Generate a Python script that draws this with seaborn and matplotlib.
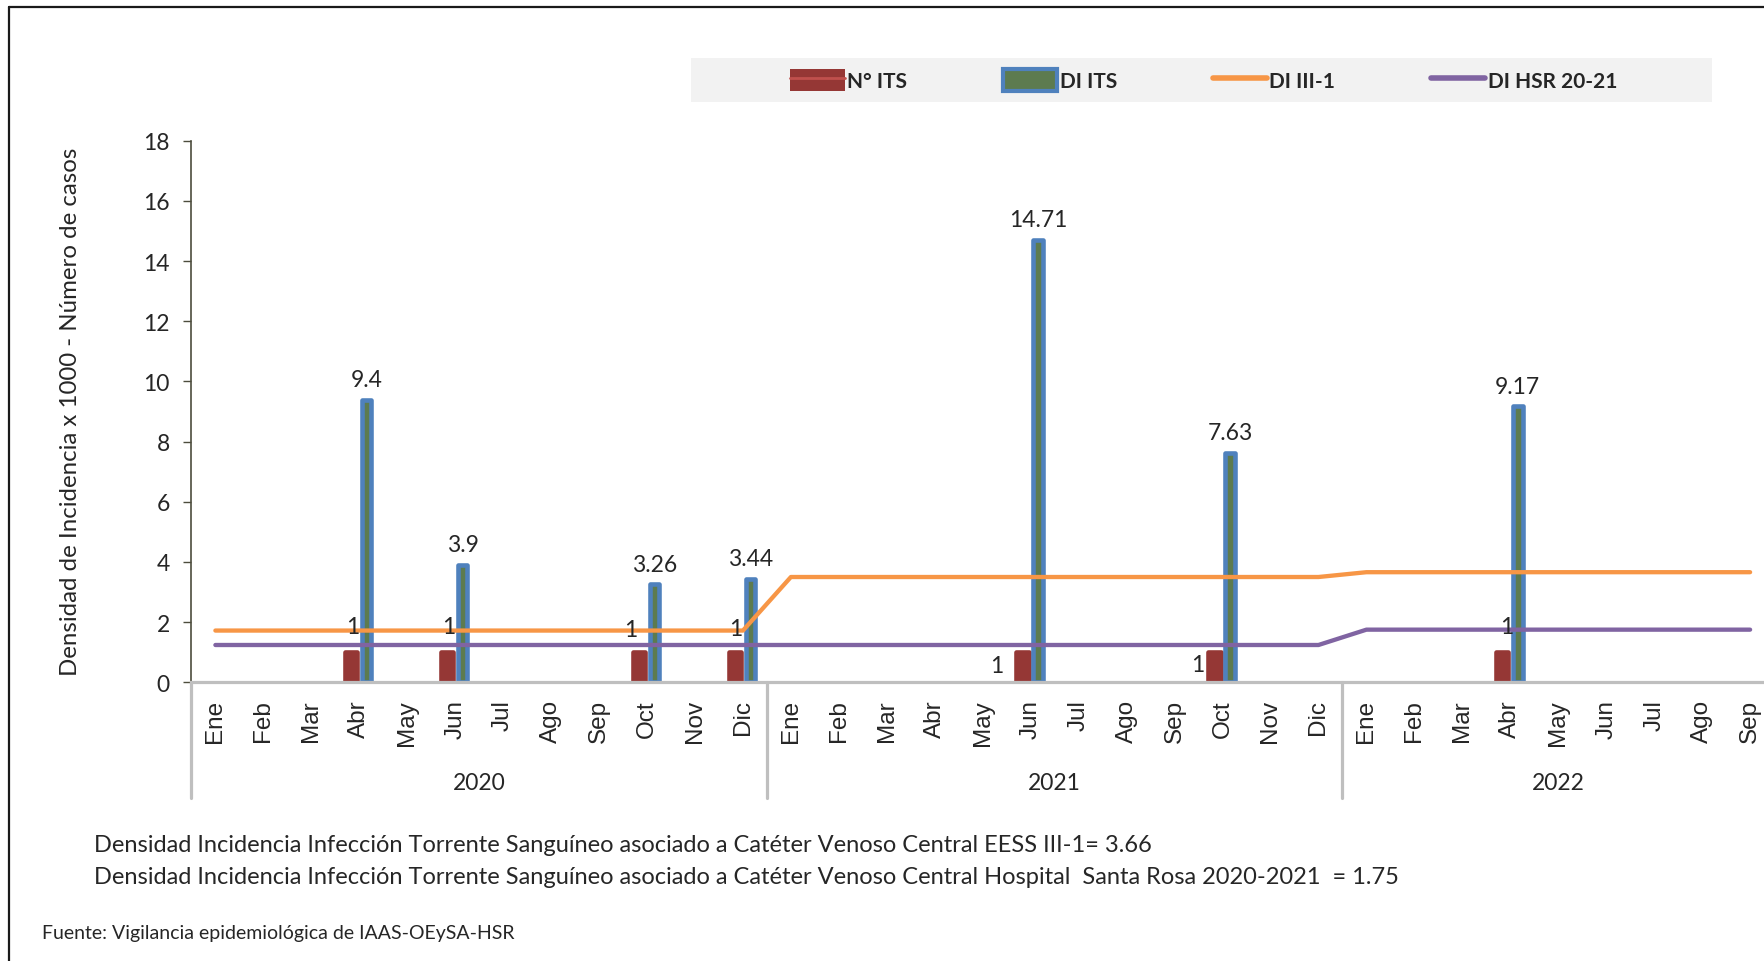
import matplotlib
matplotlib.use("Agg")
import matplotlib.pyplot as plt
import seaborn as sns
import pandas as pd
import numpy as np
from matplotlib.patches import Patch, Rectangle
from matplotlib.lines import Line2D

# ---- datos ----
meses = ["Ene", "Feb", "Mar", "Abr", "May", "Jun", "Jul", "Ago", "Sep", "Oct", "Nov", "Dic"]
anios = ["2020", "2021", "2022"]
meses_por_anio = [12, 12, 9]

claves = [f"{a}-{m}" for a, n in zip(anios, meses_por_anio) for m in meses[:n]]
etiquetas = [m for n in meses_por_anio for m in meses[:n]]

casos_mes = ["2020-Abr", "2020-Jun", "2020-Oct", "2020-Dic", "2021-Jun", "2021-Oct", "2022-Abr"]
n_its = [1, 1, 1, 1, 1, 1, 1]
di_its = [9.4, 3.9, 3.26, 3.44, 14.71, 7.63, 9.17]

di_iii1 = [1.72, 1.72, 1.72, 1.72, 1.72, 1.72, 1.72, 1.72, 1.72, 1.72, 1.72, 1.72,
           3.5, 3.5, 3.5, 3.5, 3.5, 3.5, 3.5, 3.5, 3.5, 3.5, 3.5, 3.5,
           3.66, 3.66, 3.66, 3.66, 3.66, 3.66, 3.66, 3.66, 3.66]
di_hsr = [1.24, 1.24, 1.24, 1.24, 1.24, 1.24, 1.24, 1.24, 1.24, 1.24, 1.24, 1.24,
          1.24, 1.24, 1.24, 1.24, 1.24, 1.24, 1.24, 1.24, 1.24, 1.24, 1.24, 1.24,
          1.75, 1.75, 1.75, 1.75, 1.75, 1.75, 1.75, 1.75, 1.75]

series = ["N° ITS", "DI ITS", "DI III-1", "DI HSR 20-21"]

# colores estilo excel
rojo = "#953735"
rojo_claro = "#c0504d"
azul = "#4f81bd"
verde = "#5d7b4f"
naranja = "#f79646"
morado = "#8064a2"
gris = "#bfbfbf"

sns.set_theme(style="white")
plt.rcParams['font.family'] = ['Lato', 'DejaVu Sans']

W, H = 1765, 962
fig = plt.figure(figsize=(W / 100, H / 100), dpi=100)
ax = fig.add_axes([191.4 / W, 1 - 683.3 / H, 33 * 47.96 / W, 541.5 / H])

df = pd.DataFrame({
    "mes": casos_mes * 2,
    "valor": n_its + di_its,
    "serie": [series[0]] * len(casos_mes) + [series[1]] * len(casos_mes),
})
sns.barplot(data=df, x="mes", y="valor", hue="serie", order=claves,
            hue_order=series[:2], palette=[rojo, azul], width=0.64,
            saturation=1, legend=False, ax=ax)

# barras DI ITS: relleno verde con borde azul
for p in ax.containers[1]:
    cx = p.get_x() + p.get_width() / 2
    p.set_width(0.2)
    p.set_x(cx - 0.1 - 0.005)
    p.set_facecolor(verde)
    p.set_edgecolor(azul)
    p.set_linewidth(3.3)
    p.set_joinstyle("round")
# barras N° ITS: esquinas redondeadas
for p in ax.containers[0]:
    cx = p.get_x() + p.get_width() / 2
    p.set_width(0.26)
    p.set_x(cx - 0.13 - 0.01)
    p.set_edgecolor(rojo)
    p.set_linewidth(3.3)
    p.set_joinstyle("round")

pos = np.arange(len(claves))
sns.lineplot(x=pos, y=di_iii1, color=naranja, linewidth=3.1, ax=ax,
             solid_capstyle="round", zorder=4)
sns.lineplot(x=pos, y=di_hsr, color=morado, linewidth=3.1, ax=ax,
             solid_capstyle="round", zorder=4)

# etiquetas de datos
ax.bar_label(ax.containers[1], fmt="{:g}", padding=7, fontsize=16.5, zorder=6)
pos_uno = [(-0.1, 1.87), (-0.1, 1.87), (-0.3, 1.74), (-0.12, 1.8),
           (-0.67, 0.56), (-0.49, 0.6), (-0.05, 1.87)]
for p, (dx, y) in zip(ax.containers[0], pos_uno):
    ax.text(p.get_x() + p.get_width() + 0.01 + dx, y, f"{n_its[0]:g}",
            ha="center", va="center", fontsize=16.5, zorder=6)

ax.set_xlim(-0.5, len(claves) - 0.5)
ax.set_ylim(0, 18)
ax.set_yticks(range(0, 19, 2))
ax.set_xticks(pos)
ax.set_xticklabels(etiquetas, rotation=90, fontsize=17.5, family="Liberation Sans")
ax.set_xlabel("")
ax.set_ylabel("")
ax.tick_params(axis="x", length=0, pad=12)
ax.tick_params(axis="y", length=5.5, width=1, color="#4d4d3d", pad=10,
               labelsize=16.5, left=True)
for s in ["top", "right"]:
    ax.spines[s].set_visible(False)
ax.spines["left"].set_color("#4d4d3d")
ax.spines["left"].set_linewidth(1.2)
ax.spines["bottom"].set_color(gris)
ax.spines["bottom"].set_linewidth(2.3)
ax.spines["bottom"].set_zorder(5)

# eje de categorias de dos niveles
inicio = 0
for anio, n in zip(anios, meses_por_anio):
    ax.add_line(Line2D([inicio - 0.5, inicio - 0.5], [0, -0.214], color=gris, lw=2.3,
                       transform=ax.get_xaxis_transform(), clip_on=False))
    ax.text(inicio + (n - 1) / 2, -0.185, anio, ha="center", va="center",
            fontsize=16.5, transform=ax.get_xaxis_transform())
    inicio += n

fig.text(71 / W, 1 - 412 / H, "Densidad de Incidencia x 1000 - Número de casos",
         rotation=90, ha="center", va="center", fontsize=17.3)

# leyenda
fig.add_artist(Rectangle((691 / W, 1 - 103 / H), (1712 - 691) / W, 44.5 / H,
                         transform=fig.transFigure, facecolor="#f2f2f2",
                         edgecolor="none", zorder=0))
handles = [
    (Patch(facecolor=rojo, edgecolor="none"), Line2D([], [], color=rojo_claro, lw=2)),
    Patch(facecolor=verde, edgecolor=azul, linewidth=3),
    Line2D([], [], color=naranja, lw=4, solid_capstyle="round"),
    Line2D([], [], color=morado, lw=4, solid_capstyle="round"),
]
fig.legend(handles, series, loc="center left", bbox_to_anchor=(780 / W, 1 - 80.7 / H),
           ncol=4, frameon=False, borderpad=0, handlelength=2.6, handleheight=1.25,
           handletextpad=0.12, columnspacing=4.6,
           prop=dict(family="Lato", weight="bold", size=15))

# notas al pie
fig.text(94.5 / W, 1 - 845.5 / H,
         "Densidad Incidencia Infección Torrente Sanguíneo asociado a Catéter Venoso Central EESS III-1= 3.66",
         ha="left", va="center", fontsize=17)
fig.text(94.5 / W, 1 - 878 / H,
         "Densidad Incidencia Infección Torrente Sanguíneo asociado a Catéter Venoso Central Hospital  Santa Rosa 2020-2021  = 1.75",
         ha="left", va="center", fontsize=17)
fig.text(41.6 / W, 1 - 934 / H, "Fuente: Vigilancia epidemiológica de IAAS-OEySA-HSR",
         ha="left", va="center", fontsize=14)

# marco
fig.add_artist(Line2D([9 / W, 9 / W], [0, 1 - 8 / H], color="#1a1a1a", lw=1.6,
                      transform=fig.transFigure))
fig.add_artist(Line2D([9 / W, 1], [1 - 8 / H, 1 - 8 / H], color="#1a1a1a", lw=1.6,
                      transform=fig.transFigure))

fig.savefig("out.png", dpi=100)
